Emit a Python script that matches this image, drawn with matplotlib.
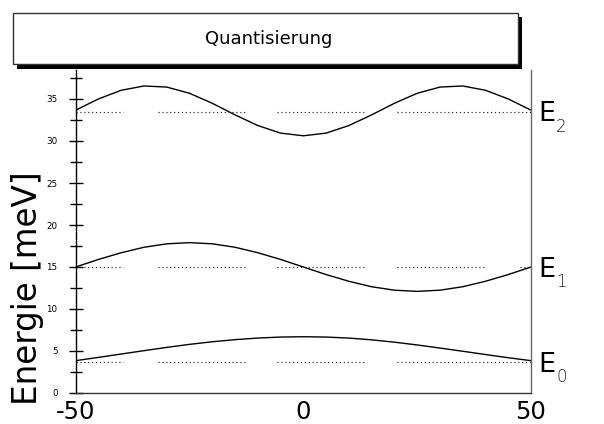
import matplotlib
matplotlib.use("Agg")
import matplotlib.pyplot as plt
from matplotlib.patches import Rectangle
import numpy as np

# ---- data ----
x_vals = [-50, -45, -40, -35, -30, -25, -20, -15, -10, -5, 0,
          5, 10, 15, 20, 25, 30, 35, 40, 45, 50]
e0_curve = [3.85, 4.24, 4.64, 5.04, 5.43, 5.79, 6.10, 6.35, 6.54, 6.66, 6.70,
            6.66, 6.54, 6.33, 6.05, 5.72, 5.35, 4.97, 4.58, 4.20, 3.85]
e1_curve = [15.0, 15.9, 16.7, 17.35, 17.76, 17.9, 17.76, 17.35, 16.7, 15.9, 15.0,
            14.1, 13.3, 12.65, 12.24, 12.1, 12.24, 12.65, 13.3, 14.1, 15.0]
e2_curve = [33.67, 35.01, 36.04, 36.55, 36.42, 35.68, 34.49, 33.11, 31.84, 30.94, 30.62,
            30.94, 31.84, 33.11, 34.49, 35.68, 36.42, 36.55, 36.04, 35.01, 33.67]

levels = [3.7, 15.0, 33.5]
level_names = ["0", "1", "2"]
seg_e0 = [(-50, -39.7), (-31.9, -12.4), (-5.85, 13.7), (20.5, 50)]
seg_e1 = [(-50, -39.7), (-31.9, -12.4), (-5.85, 13.7), (20.5, 39.9), (47.6, 50)]
seg_e2 = [(-50, -39.7), (-31.9, -12.4), (-5.85, 13.7), (20.5, 50)]

title = "Quantisierung"
ylabel = "Energie [meV]"
xticks = [-50, 0, 50]
yticks = [0, 5, 10, 15, 20, 25, 30, 35]
yminor = [2.5, 7.5, 12.5, 17.5, 22.5, 27.5, 32.5, 37.5]

W, H = 604, 424
fig = plt.figure(figsize=(W / 100, H / 100), dpi=100)
plt.rcParams['font.family'] = ['DejaVu Sans']

def px(x0, y0, x1, y1):
    return [x0 / W, 1 - y1 / H, (x1 - x0) / W, (y1 - y0) / H]

ax = fig.add_axes(px(75.7, 69.6, 531, 393))
ax.set_xlim(-50, 50)
ax.set_ylim(0, 38.5)

for curve in (e0_curve, e1_curve, e2_curve):
    ax.plot(x_vals, curve, color="black", lw=1.0, solid_capstyle="butt")

for lvl, segs in zip(levels, (seg_e0, seg_e1, seg_e2)):
    for a, b in segs:
        ax.plot([a, b], [lvl, lvl], color="#222222", lw=0.85,
                linestyle=(0, (1, 2.3)), dash_capstyle="butt")

ax.spines["top"].set_visible(False)
ax.spines["right"].set_color("#666666")
ax.spines["left"].set_color("black")
ax.spines["bottom"].set_color("#333333")
for s in ax.spines.values():
    s.set_linewidth(1.0)

ax.set_xticks(xticks)
ax.set_xticklabels([str(v) for v in xticks], fontsize=17.5)
ax.tick_params(axis="x", length=0, pad=5)
ax.set_yticks(yticks)
ax.set_yticks(yminor, minor=True)
ax.set_yticklabels([str(v) for v in yticks], fontsize=6.3)
ax.tick_params(axis="y", which="major", direction="inout", length=10, width=1, pad=8)
ax.tick_params(axis="y", which="minor", direction="inout", length=8, width=1)

# level labels on the right
for lvl, name in zip(levels, level_names):
    ax.annotate("E", xy=(50, lvl), xytext=(5.5, -2), textcoords="offset points",
                fontsize=19.5, ha="left", va="center", annotation_clip=False)
    ax.annotate(name, xy=(50, lvl), xytext=(18, -11), textcoords="offset points",
                fontsize=12, ha="left", va="center", annotation_clip=False,
                fontweight="light", color="#222222")

# y label
fig.text(28 / W, 1 - 288.5 / H, ylabel, rotation=90, fontsize=23.5,
         ha="center", va="center")

# title box with shadow
fig.patches.append(Rectangle((17 / W, 1 - 69 / H), (522 - 17) / W, (69 - 17) / H,
                             transform=fig.transFigure, facecolor="black",
                             edgecolor="none", zorder=5))
fig.patches.append(Rectangle((13 / W, 1 - 64 / H), (518 - 13) / W, (64 - 13) / H,
                             transform=fig.transFigure, facecolor="white",
                             edgecolor="#333333", lw=1.0, zorder=6))
fig.text(268.5 / W, 1 - 39 / H, title, fontsize=13, ha="center", va="center",
         zorder=7)

fig.savefig("out.png", dpi=100)
